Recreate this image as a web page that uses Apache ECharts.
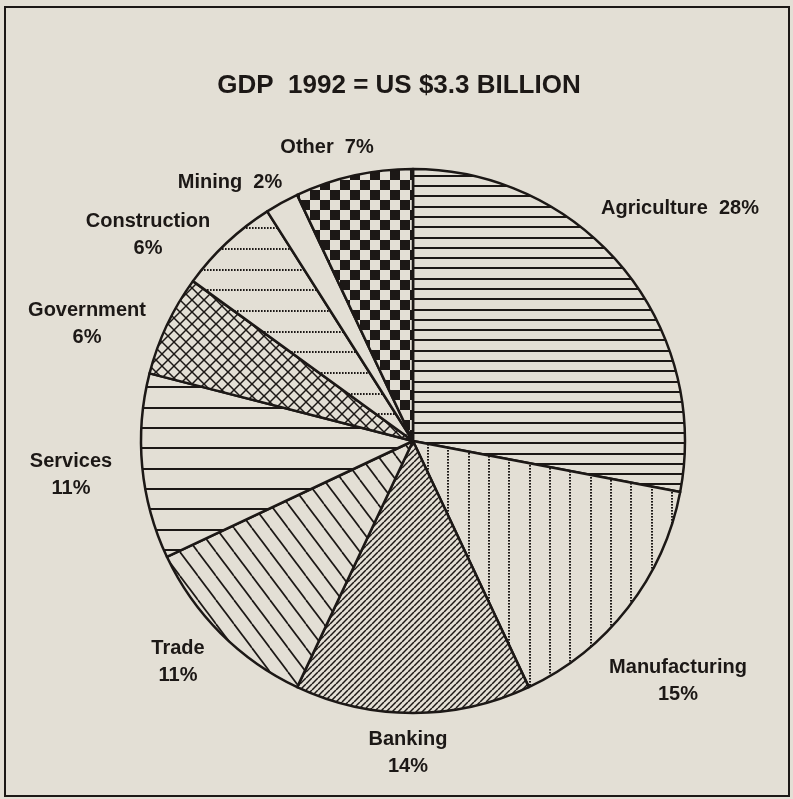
<!DOCTYPE html>
<html>
<head>
<meta charset="utf-8">
<script src="https://cdn.jsdelivr.net/npm/echarts@6/dist/echarts.min.js"></script>
<style>
  html, body { margin: 0; padding: 0; background: #e3dfd5; }
  #chart { width: 793px; height: 799px; }
</style>
</head>
<body>
<div id="chart"></div>
<script>
var BG = '#e3dfd5';
var INK = '#1c1816';
var FONT = '"Liberation Sans", Arial, Helvetica, sans-serif';

// GDP 1992 shares, clockwise from 12 o'clock
var categories = ['Agriculture', 'Manufacturing', 'Banking', 'Trade', 'Services', 'Government', 'Construction', 'Mining', 'Other'];
var shares = [28, 15, 14, 11, 11, 6, 6, 2, 7];
var oneLine = [true, false, false, false, false, false, false, true, true];
// label block centres
var labelPos = [[680, 208], [678, 681], [408, 753], [178, 662], [71, 475], [87, 324], [148, 235], [230, 182], [327, 147]];

function tile(w, h, draw) {
    var c = document.createElement('canvas');
    c.width = w;
    c.height = h;
    var g = c.getContext('2d');
    g.fillStyle = BG;
    g.fillRect(0, 0, w, h);
    g.fillStyle = INK;
    g.strokeStyle = INK;
    if (draw) draw(g, w, h);
    return {image: c, repeat: 'repeat'};
}

function diag(g, w, h, dir, lw) {
    g.lineWidth = lw;
    for (var k = -1; k <= 1; k++) {
        g.beginPath();
        if (dir > 0) {          // "/" lines
            g.moveTo(k * w, h);
            g.lineTo(k * w + w, 0);
        } else {                // "\" lines
            g.moveTo(k * w, 0);
            g.lineTo(k * w + w, h);
        }
        g.stroke();
    }
}

var patterns = [
    // agriculture: close horizontal lines
    tile(4, 72, function (g) {
        for (var i = 0; i < 7; i++) g.fillRect(0, Math.round(i * 72 / 7), 4, 2);
    }),
    // manufacturing: vertical dotted lines
    tile(61, 3, function (g) {
        [0, 20, 41].forEach(function (x) { g.fillRect(x, 0, 2, 1.6); });
    }),
    // banking: dense "/" hatch
    tile(6, 6, function (g, w, h) { diag(g, w, h, 1, 1.5); }),
    // trade: wide "\" hatch
    tile(18, 24, function (g, w, h) { diag(g, w, h, -1, 1.7); }),
    // services: wide horizontal lines
    tile(4, 61, function (g) {
        [0, 20, 41].forEach(function (y) { g.fillRect(0, y, 4, 2); });
    }),
    // government: cross hatch
    tile(12, 12, function (g, w, h) { diag(g, w, h, 1, 1.5); diag(g, w, h, -1, 1.5); }),
    // construction: dotted horizontal lines
    tile(3, 62, function (g) {
        [0, 21, 41].forEach(function (y) { g.fillRect(0, y, 1.6, 2); });
    }),
    // mining: plain
    tile(4, 4),
    // other: checkerboard
    tile(20, 20, function (g) {
        g.fillRect(0, 0, 10, 10);
        g.fillRect(10, 10, 10, 10);
    })
];

var pieData = categories.map(function (name, i) {
    return {name: name, value: shares[i], itemStyle: {color: patterns[i]}};
});

var chart = echarts.init(document.getElementById('chart'));
var option = {
    backgroundColor: BG,
    animation: false,
    title: {
        text: 'GDP  1992 = US $3.3 BILLION',
        left: 394,
        top: 68,
        textAlign: 'center',
        textStyle: {fontFamily: FONT, fontWeight: 'bold', fontSize: 26, color: INK}
    },
    graphic: [{
        type: 'rect',
        shape: {x: 5, y: 7, width: 784, height: 789},
        style: {fill: 'none', stroke: INK, lineWidth: 2},
        silent: true
    }],
    series: [{
        type: 'pie',
        center: [413, 441],
        radius: 272,
        startAngle: 90,
        clockwise: true,
        avoidLabelOverlap: false,
        emphasis: {disabled: true},
        itemStyle: {borderColor: INK, borderWidth: 2.5},
        label: {
            show: true,
            position: 'outside',
            color: INK,
            fontFamily: FONT,
            fontWeight: 'bold',
            fontSize: 20,
            lineHeight: 27,
            align: 'center',
            formatter: function (p) {
                return p.name + (oneLine[p.dataIndex] ? '  ' : '\n') + p.value + '%';
            }
        },
        labelLine: {show: false},
        labelLayout: function (p) {
            var pos = labelPos[p.dataIndex];
            return {x: pos[0], y: pos[1], align: 'center', verticalAlign: 'middle'};
        },
        data: pieData
    }]
};
chart.setOption(option);
</script>
</body>
</html>
